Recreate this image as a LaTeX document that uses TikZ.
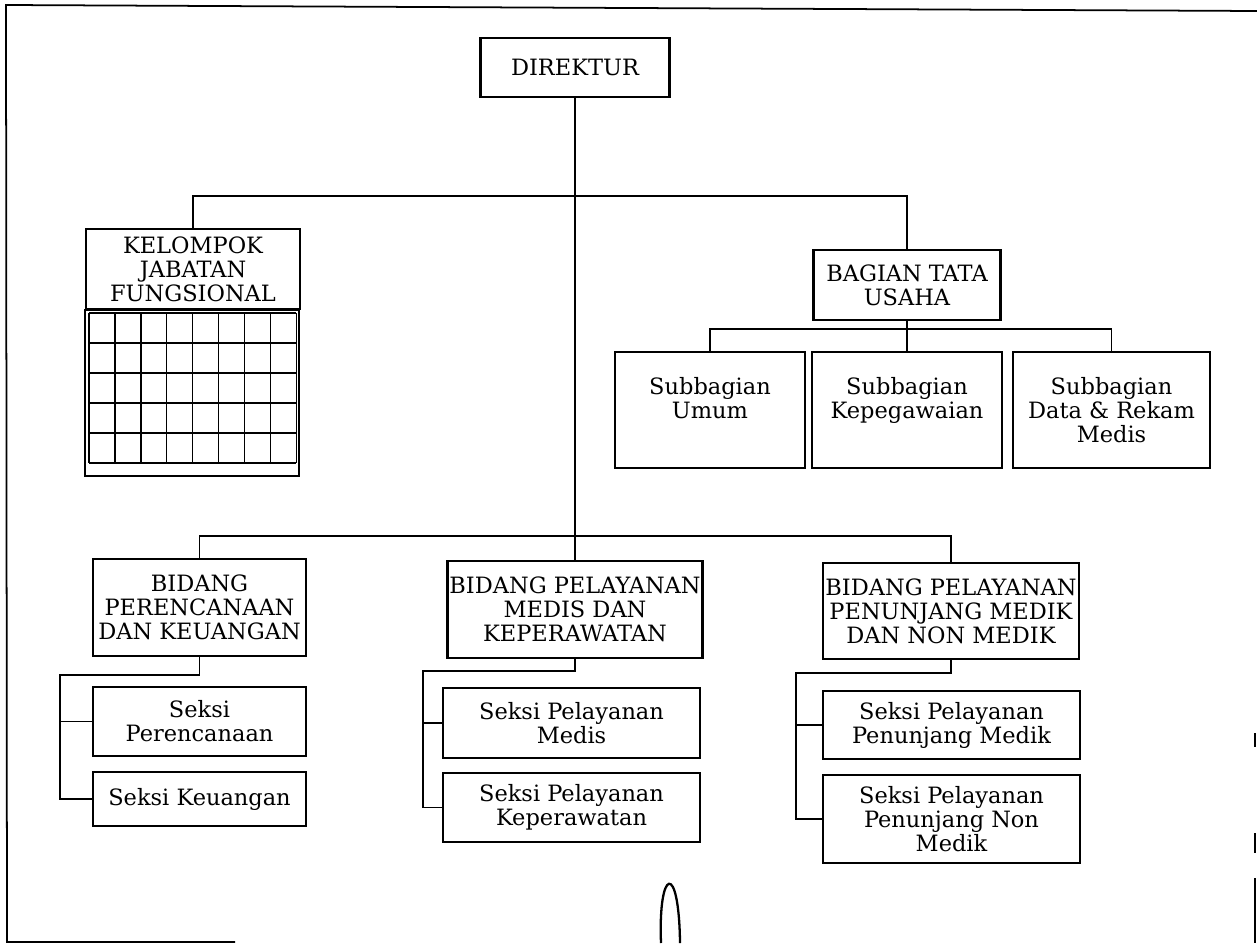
\documentclass[tikz,border=0pt]{standalone}
\usepackage{fontspec}
\setmainfont{DejaVu Serif}
\usepackage{tikz}
\usetikzlibrary{calc}
\tikzstyle{unit}=[draw,line width=1.2pt,rectangle,inner sep=0pt,align=center,font=\fontsize{12.8}{13.6}\selectfont]
\tikzstyle{link} = [draw,line width=0.8pt,-]

\begin{document}
\begin{tikzpicture}[x=0.02cm,y=-0.02cm]
      \useasboundingbox (0,0) rectangle (1257,943);
      % frame
      \draw[line width=1pt] (1257,11) -- (6,5) -- (7,942) -- (235,942);
      \draw[line width=1pt] (1255,733) -- (1255,747) (1255,833) -- (1255,853) (1255,878) -- (1255,943);
      \draw[line width=1.3pt] (661,943) .. controls (658,868) and (679,860) .. (680,943);
      % top
      \node[unit,minimum width=3.78cm,minimum height=1.18cm] (dir) at (575,67.5) {DIREKTUR};
      \node[unit,minimum width=4.28cm,minimum height=1.6cm] (kjf) at (193,269) {KELOMPOK\\JABATAN\\FUNGSIONAL};
      \draw[line width=1.2pt] (kjf.south west) rectangle ++(214,166);
      \foreach \i in {0,...,8}
        \draw[line width=0.8pt] (89+25.9*\i,313) -- (89+25.9*\i,463);
      \foreach \j in {0,...,5}
        \draw[line width=0.8pt] (89,313+30*\j) -- (296,313+30*\j);
      \node[unit,minimum width=3.74cm,minimum height=1.4cm] (tu) at (907,285) {BAGIAN TATA\\USAHA};
      \node[unit,minimum width=3.8cm,minimum height=2.32cm] (sbu) at (710,410) {Subbagian\\Umum\\\phantom{X}};
      \node[unit,minimum width=3.8cm,minimum height=2.32cm] (sbk) at (907,410) {Subbagian\\Kepegawaian\\\phantom{X}};
      \node[unit,minimum width=3.94cm,minimum height=2.32cm] (sbd) at (1111.5,410) {Subbagian\\Data \& Rekam\\Medis};
      % bidang
      \node[unit,minimum width=4.26cm,minimum height=1.94cm] (bpk) at (199.5,607.5) {BIDANG\\PERENCANAAN\\DAN KEUANGAN};
      \node[unit,minimum width=5.1cm,minimum height=1.94cm] (bpm) at (575,609.5) {BIDANG PELAYANAN\\MEDIS DAN\\KEPERAWATAN};
      \node[unit,minimum width=5.12cm,minimum height=1.92cm] (bpp) at (951,611) {BIDANG PELAYANAN\\PENUNJANG MEDIK\\DAN NON MEDIK};
      % seksi
      \node[unit,minimum width=4.26cm,minimum height=1.38cm] (sper) at (199.5,721.5) {Seksi\\Perencanaan};
      \node[unit,minimum width=4.26cm,minimum height=1.08cm] (skeu) at (199.5,799) {Seksi Keuangan};
      \node[unit,minimum width=5.14cm,minimum height=1.4cm] (spm) at (571.5,723) {Seksi Pelayanan\\Medis};
      \node[unit,minimum width=5.14cm,minimum height=1.38cm] (spk) at (571.5,807.5) {Seksi Pelayanan\\Keperawatan};
      \node[unit,minimum width=5.14cm,minimum height=1.36cm] (spp) at (951.5,725) {Seksi Pelayanan\\Penunjang Medik};
      \node[unit,minimum width=5.14cm,minimum height=1.76cm] (spn) at (951.5,819) {Seksi Pelayanan\\Penunjang Non\\Medik};
      % links
      \coordinate (rp) at (60,675);
      \coordinate (rm) at (423,671);
      \coordinate (rn) at (796,673);
      \draw[link] (dir.south) -- (bpm.north);
      \draw[link] (kjf.north) -- ++(0,-32) -| (tu.north);
      \draw[link] (tu.south) -- (sbk.north);
      \draw[link] (sbu.north) -- ++(0,-22) -| (sbd.north);
      \draw[link] (bpk.north) -- ++(0,-22) -| (bpp.north);
      \draw[link] (bpk.south) |- (rp) |- (skeu.west);
      \draw[link] (rp |- sper.west) -- (sper.west);
      \draw[link] (bpm.south) |- (rm) |- (spk.west);
      \draw[link] (rm |- spm.west) -- (spm.west);
      \draw[link] (bpp.south) |- (rn) |- (spn.west);
      \draw[link] (rn |- spp.west) -- (spp.west);
    \end{tikzpicture}
\end{document}
